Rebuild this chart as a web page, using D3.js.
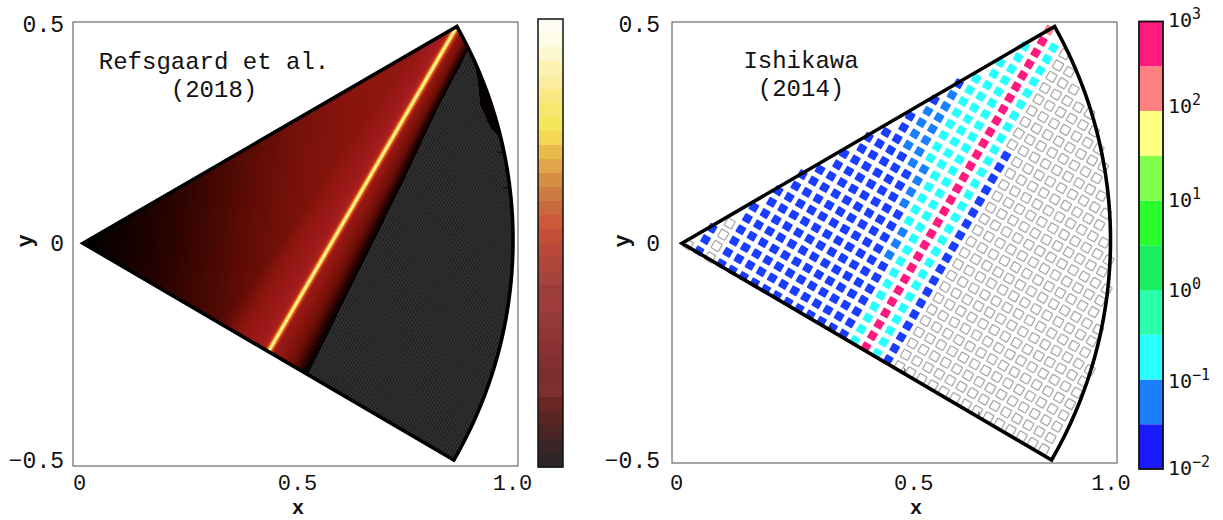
<!DOCTYPE html>
<html>
<head>
<meta charset="utf-8">
<script src="https://cdnjs.cloudflare.com/ajax/libs/d3/7.8.5/d3.min.js"></script>
<style>
html, body { margin: 0; padding: 0; background: #fff; }
svg { display: block; }
text { font-family: "Liberation Mono", monospace; fill: #111; }
</style>
</head>
<body>
<svg id="chart" width="1223" height="520"></svg>
<script>
// ---- left panel (Refsgaard et al.): readings
// brightness level across x, away from the bright line
var xLevelAt = [0, 0.1, 0.2, 0.3, 0.4, 0.5, 0.6, 0.7, 0.87];
var xLevels = [0, 0.09, 0.2, 0.31, 0.43, 0.54, 0.6, 0.63, 0.68];
// glow left of the line, by distance from it
var glowLeftAt = [0, 0.003, 0.0065, 0.011, 0.03, 0.08, 0.2];
var glowLeft = [1, 0.95, 0.8, 0.72, 0.69, 0.6, 0];
// fade right of the line, as a share of the way to the grey region
var fadeAt = [0, 0.3, 0.6, 0.8, 0.92, 1];
var fade = [0.7, 0.62, 0.47, 0.25, 0.07, 0.01];
var glowRightAt = [0, 0.003, 0.0065, 0.011, 0.022];
var glowRight = [1, 0.95, 0.8, 0.72, 0];
// edge of the grey region, by distance down from the top corner
var greyEdgeAt = [0.03, 0.2, 0.386, 0.866];
var greyEdge = [0.05, 0.058, 0.074, 0.106];
// black patch against the arc: radius by angle in degrees
var patchAngle = [13.8, 15.7, 19, 22, 25];
var patchRadius = [1, 0.983, 0.975, 0.988, 1];
// field colour ramp
var rampAt = [0, 0.2, 0.4, 0.6, 0.7, 0.8, 0.9, 0.97, 1];
var rampColors = ["#000000", "#2a0300", "#5e0c05", "#8a150e", "#a01a1c", "#d8401a", "#f7a030", "#ffe860", "#fffbd0"];
// left colour bar, top to bottom
var barColors = ["#fffdf2", "#fefbe6", "#fdf7d0", "#fbf2b4", "#f9eda0", "#f8e985", "#f7e670", "#f6e65a",
  "#f3d755", "#e9bb4c", "#dfa548", "#d48f44", "#cc7c40", "#c9683c", "#cc5a3a", "#c44f38",
  "#b94a3a", "#ae463b", "#a6433c", "#9d3d3a", "#a03a3b", "#933a3a", "#8f3536", "#8a3233",
  "#823030", "#7c2d2c", "#7e3030", "#6a2824", "#5a2522", "#4a2524", "#3a2526", "#2e2626"];
// small dashes against the arc, left panel (y values)
var arcDashes = [0.21, 0.128];

// ---- right panel (Ishikawa): bands of the legend, bottom to top
var bandColors = ["#1a1aff", "#1a80ff", "#2affff", "#2affaa", "#1aee5f", "#2bff2b", "#80ff4d", "#ffff80", "#ff8080", "#ff1a80"];
var cellBlue = "#1a3dff";
var bandExponents = [-2, -1, 0, 1, 2, 3];
var bandLabelNudge = [6, 8.5, 7, 6.5, 2, 5.5];
var NONE = -1, BLUE = 0, MID = 1, CYAN = 2, SALMON = 8, PINK = 9;
// each lattice column: band and first row of each run along the column
var columnIds = d3.range(-16, 17);
var columnRuns = [
  [[NONE, 0]],
  [[BLUE, 0]],
  [[BLUE, 0], [NONE, 25]],
  [[BLUE, 0]], [[BLUE, 0]], [[BLUE, 0]], [[BLUE, 0]], [[BLUE, 0]], [[BLUE, 0]], [[BLUE, 0]], [[BLUE, 0]],
  [[BLUE, 0], [MID, 10], [BLUE, 14]],
  [[BLUE, 0], [MID, 8], [BLUE, 15]],
  [[CYAN, 0], [MID, 14], [BLUE, 18]],
  [[CYAN, 0], [MID, 19], [BLUE, 22]],
  [[CYAN, 0]],
  [[SALMON, 0], [PINK, 1]],
  [[CYAN, 0]],
  [[NONE, 0], [BLUE, 10]],
  [[NONE, 0]], [[NONE, 0]], [[NONE, 0]], [[NONE, 0]], [[NONE, 0]], [[NONE, 0]], [[NONE, 0]], [[NONE, 0]],
  [[NONE, 0]], [[NONE, 0]], [[NONE, 0]], [[NONE, 0]], [[NONE, 0]], [[NONE, 0]]
];
var rowIds = d3.range(0, 40);
// small dashes on the lower edge, right panel (x values)
var edgeDashes = [0.175, 0.347, 0.52, 0.693];

// ---- axes
var xTicks = [0, 0.5, 1];
var xTickLabels = ["0", "0.5", "1.0"];
var yTicks = [-0.5, 0, 0.5];
var yTickLabels = ["\u22120.5", "0", "0.5"];

var svg = d3.select("#chart");
var skew = 3; // the corners lean a little in the picture

function panel(opt) {
  var x = d3.scaleLinear().domain([0, 1]).range([opt.x0, opt.x1]);
  var y = d3.scaleLinear().domain([-0.5, 0.5]).range([460, 26.5]);
  var g = svg.append("g");

  opt.draw(g, x, y);

  g.append("rect")
    .attr("x", opt.frame[0]).attr("y", opt.frame[1])
    .attr("width", opt.frame[2] - opt.frame[0]).attr("height", opt.frame[3] - opt.frame[1])
    .attr("fill", "none").attr("stroke", "#777").attr("stroke-width", 1.3);

  // wedge outline
  var outline = [[0, 0]];
  d3.range(30, -30.5, -1).forEach(function (a) {
    outline.push([Math.cos(a * Math.PI / 180), Math.sin(a * Math.PI / 180)]);
  });
  var line = d3.line()
    .x(function (d) { return x(d[0]) + skew * d[1]; })
    .y(function (d) { return y(d[1]); });
  g.append("path")
    .attr("d", line(outline) + "Z")
    .attr("fill", "none").attr("stroke", "#000").attr("stroke-width", 3.6)
    .attr("stroke-linejoin", "miter");

  // axes
  var xAxis = d3.axisBottom(x).tickValues(xTicks).tickSize(0).tickPadding(0)
    .tickFormat(function (d, i) { return xTickLabels[i]; });
  var xg = g.append("g").attr("transform", "translate(0," + opt.xTickY + ")").call(xAxis);
  xg.select(".domain").remove();
  xg.selectAll("text").attr("dy", 0).attr("y", 0).attr("dx", function (d, i) { return opt.xNudge[i]; })
    .style("font-size", "22px").attr("fill", "#111");

  var yAxis = d3.axisLeft(y).tickValues(yTicks).tickSize(0).tickPadding(0)
    .tickFormat(function (d, i) { return yTickLabels[i]; });
  var yg = g.append("g").attr("transform", "translate(" + opt.yTickX + ",0)").call(yAxis);
  yg.select(".domain").remove();
  yg.selectAll("text").attr("dy", function (d, i) { return [7, 7, 5][i]; })
    .style("font-size", "23px").attr("fill", "#111");

  g.append("text").attr("x", opt.xLabelX).attr("y", 514).attr("text-anchor", "middle")
    .style("font-size", "20px").style("font-weight", "bold").text("x");
  g.append("text").attr("transform", "translate(" + opt.yLabelX + ",241) rotate(-90)")
    .attr("text-anchor", "middle").style("font-size", "22px").style("font-weight", "bold").text("y");

  opt.title.forEach(function (t, i) {
    g.append("text").attr("x", opt.titleX).attr("y", opt.titleY + i * 28)
      .attr("text-anchor", "middle").style("font-size", "24px").text(t);
  });
}

// left field, one pixel at a time
function drawField(g, x, y) {
  var w = 445, h = 445, left = 73, top = 22;
  var canvas = document.createElement("canvas");
  canvas.width = w; canvas.height = h;
  var ctx = canvas.getContext("2d");
  var img = ctx.createImageData(w, h);

  var xLevel = d3.scaleLinear().domain(xLevelAt).range(xLevels).clamp(true);
  var gLeft = d3.scaleLinear().domain(glowLeftAt).range(glowLeft).clamp(true);
  var gRight = d3.scaleLinear().domain(glowRightAt).range(glowRight).clamp(true);
  var fadeScale = d3.scaleLinear().domain(fadeAt).range(fade).clamp(true);
  var edge = d3.scaleLinear().domain(greyEdgeAt).range(greyEdge);
  var patch = d3.scaleLinear().domain(patchAngle).range(patchRadius).clamp(true);
  var ramp = d3.scaleLinear().domain(rampAt).range(rampColors);
  var lut = d3.range(0, 513).map(function (i) { return d3.rgb(ramp(i / 512)); });

  for (var j = 0; j < h; j++) {
    var dy = y.invert(top + j + 0.5);
    var lean = skew * dy;
    for (var i = 0; i < w; i++) {
      var dx = x.invert(left + i + 0.5 - lean);
      var r = Math.sqrt(dx * dx + dy * dy);
      var ang = Math.atan2(dy, dx) * 180 / Math.PI;
      if (r > 1 || Math.abs(ang) > 30) continue;
      var u = 0.866 * dx - 0.5 * dy - 0.5;
      var d = 0.866 - (0.5 * dx + 0.866 * dy);
      var ub = edge(d);
      var c;
      if (u > ub) {
        if (ang > 13.8 && ang < 25 && r > patch(ang)) {
          c = { r: 6, g: 0, b: 2 };
        } else {
          // fine mesh of the grey region
          var p = (0.866 * dx + 0.5 * dy) / 0.0066, q = u / 0.0066;
          var fp = p - Math.floor(p), fq = q - Math.floor(q);
          var v = 48 - (fp < 0.35 ? 9 : 0) - (fq < 0.35 ? 9 : 0);
          c = { r: v, g: v, b: v };
        }
      } else {
        var lev;
        if (u <= 0) lev = Math.max(xLevel(dx - 0.12 * dy), gLeft(-u));
        else lev = Math.max(fadeScale(u / ub), gRight(u));
        c = lut[Math.round(lev * 512)];
      }
      var o = (j * w + i) * 4;
      img.data[o] = c.r; img.data[o + 1] = c.g; img.data[o + 2] = c.b; img.data[o + 3] = 255;
    }
  }
  ctx.putImageData(img, 0, 0);
  g.append("image").attr("x", left).attr("y", top).attr("width", w).attr("height", h)
    .attr("href", canvas.toDataURL());

  g.selectAll("line.dash").data(arcDashes).enter().append("line")
    .attr("class", "dash")
    .attr("x1", function (d) { return x(Math.sqrt(1 - d * d)) - 6; })
    .attr("x2", function (d) { return x(Math.sqrt(1 - d * d)); })
    .attr("y1", function (d) { return y(d); }).attr("y2", function (d) { return y(d); })
    .attr("stroke", "#000").attr("stroke-width", 1);
}

// right lattice of squares
function drawLattice(g, x, y) {
  var ox = 0.856, oy = 0.4917; // top of the pink column
  var ax = 0.02597, ay = -0.01476, bx = -0.01524, by = -0.0261;
  var cells = [];
  columnIds.forEach(function (c, ci) {
    rowIds.forEach(function (k) {
      var dx = ox + c * ax + k * bx, dy = oy + c * ay + k * by;
      var r = Math.sqrt(dx * dx + dy * dy);
      if (r > 0.999 || dx < 0) return;
      if (dy > 0.5774 * dx - 0.002 && !(c === 0 && k === 0)) return;
      if (dy < -0.5774 * dx) return;
      var band = NONE;
      columnRuns[ci].forEach(function (run) { if (k >= run[1]) band = run[0]; });
      cells.push({ x: dx, y: dy, band: band });
    });
  });
  g.selectAll("rect.cell").data(cells).enter().append("rect")
    .attr("class", "cell")
    .attr("x", -4.2).attr("y", -4.2).attr("width", 8.4).attr("height", 8.4).attr("rx", 0.8)
    .attr("transform", function (d) { return "translate(" + x(d.x) + "," + y(d.y) + ") rotate(30)"; })
    .attr("fill", function (d) { return d.band === NONE ? "none" : d.band === BLUE ? cellBlue : bandColors[d.band]; })
    .attr("stroke", function (d) { return d.band === NONE ? "#aaa" : "none"; })
    .attr("stroke-width", 1.3);

  g.selectAll("line.dash").data(edgeDashes).enter().append("line")
    .attr("class", "dash")
    .attr("x1", function (d) { return x(d); }).attr("x2", function (d) { return x(d); })
    .attr("y1", function (d) { return y(-0.5774 * d) - 5; }).attr("y2", function (d) { return y(-0.5774 * d); })
    .attr("stroke", "#222").attr("stroke-width", 1);
}

panel({
  x0: 83, x1: 513, frame: [73, 22, 518, 466], draw: drawField,
  xTickY: 490, xNudge: [-4, -1, -1], yTickX: 64, xLabelX: 298, yLabelX: 32,
  title: ["Refsgaard et al.", "(2018)"], titleX: 214, titleY: 69
});
panel({
  x0: 682, x1: 1110.5, frame: [672, 22, 1117, 463], draw: drawLattice,
  xTickY: 490, xNudge: [-6, 17, 0], yTickX: 660, xLabelX: 916, yLabelX: 629,
  title: ["Ishikawa", "(2014)"], titleX: 801, titleY: 68
});

// left colour bar
var barY = d3.scaleBand().domain(d3.range(barColors.length)).range([19, 467]);
svg.append("g").selectAll("rect").data(barColors).enter().append("rect")
  .attr("x", 538).attr("width", 25)
  .attr("y", function (d, i) { return barY(i); }).attr("height", barY.bandwidth() + 0.5)
  .attr("fill", function (d) { return d; });
svg.append("rect").attr("x", 538).attr("y", 19).attr("width", 25).attr("height", 448)
  .attr("fill", "none").attr("stroke", "#111").attr("stroke-width", 1.5);

// right colour bar
var logY = d3.scaleLinear().domain([-2, 3]).range([469, 21.5]);
svg.append("g").selectAll("rect").data(bandColors).enter().append("rect")
  .attr("x", 1139).attr("width", 24)
  .attr("y", function (d, i) { return logY(-2 + (i + 1) / 2); })
  .attr("height", function (d, i) { return logY(-2 + i / 2) - logY(-2 + (i + 1) / 2); })
  .attr("fill", function (d) { return d; });
svg.append("rect").attr("x", 1139).attr("y", 21.5).attr("width", 24).attr("height", 447.5)
  .attr("fill", "none").attr("stroke", "#111").attr("stroke-width", 1.8);

var lab = svg.append("g").selectAll("text").data(bandExponents).enter().append("text")
  .attr("x", 1168)
  .attr("y", function (d, i) { return logY(d) + bandLabelNudge[i]; })
  .style("font-family", "'DejaVu Sans Mono', monospace").style("font-size", "20px");
lab.append("tspan").text("10");
lab.append("tspan").attr("dy", -8).style("font-size", "15px")
  .text(function (d) { return String(d).replace("-", "\u2212"); });
</script>
</body>
</html>
